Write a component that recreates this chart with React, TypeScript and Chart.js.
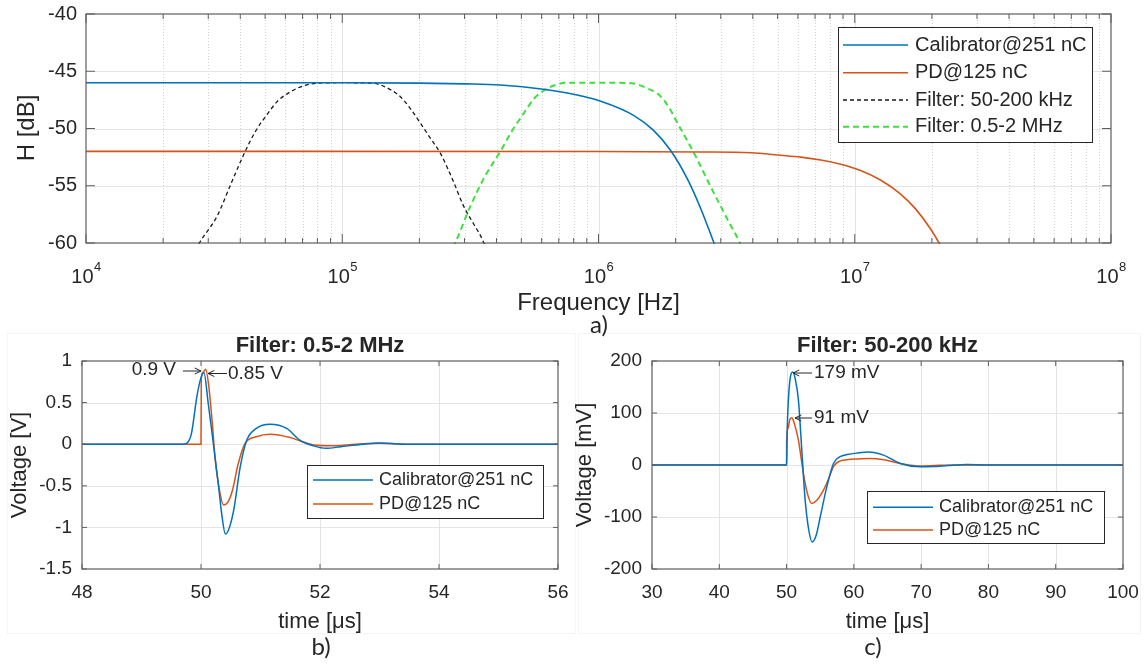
import React, { useEffect, useRef } from "react";
import { Chart, registerables } from "chart.js";
Chart.register(...registerables);

const W = 1145;
const H = 666;

// ---------- panel a) frequency response ----------
const calFreq = [1e4, 1e5, 2e5, 3e5, 4.14e5, 6.2e5, 7.55e5, 1.02e6, 1.37e6, 1.64e6, 1.91e6, 2.22e6, 2.5e6, 2.82e6, 3.17e6];
const calDb = [-46, -46, -46.04, -46.1, -46.2, -46.59, -46.9, -47.62, -48.85, -50.16, -51.9, -54.38, -56.94, -59.97, -63.1];
const pdFreq = [1e4, 1e6, 2.5e6, 3.93e6, 5.14e6, 6.15e6, 7.37e6, 8.81e6, 1.054e7, 1.26e7, 1.51e7, 1.73e7, 1.98e7, 2.17e7, 2.37e7];
const pdDb = [-52, -52.01, -52.05, -52.12, -52.34, -52.5, -52.75, -53.12, -53.67, -54.5, -55.73, -57.04, -58.8, -60.31, -62.16];
const f1Freq = [2.6e4, 2.77e4, 3.24e4, 3.7e4, 4.18e4, 4.6e4, 5.08e4, 5.6e4, 6.27e4, 7e4, 7.96e4, 1e5, 1.32e5, 1.54e5, 1.69e5, 1.85e5, 2.02e5, 2.2e5, 2.42e5, 2.7e5, 2.98e5, 3.25e5, 3.54e5, 3.7e5];
const f1Db = [-61.2, -60, -57.7, -54.7, -52, -50.2, -48.8, -47.6, -46.8, -46.3, -46.05, -46, -46.05, -46.6, -47.25, -48.3, -49.55, -50.8, -52.2, -54.5, -56.8, -58.3, -59.8, -61];
const f2Freq = [2.6e5, 2.76e5, 3.16e5, 3.6e5, 4.14e5, 4.6e5, 5.1e5, 5.6e5, 6.2e5, 6.8e5, 7.5e5, 1e6, 1.35e6, 1.55e6, 1.75e6, 1.9e6, 2.03e6, 2.2e6, 2.43e6, 2.7e6, 3.0e6, 3.25e6, 3.53e6, 3.7e6];
const f2Db = [-61.2, -60, -56.8, -54.2, -52, -50.2, -48.7, -47.4, -46.6, -46.2, -46.0, -46, -46.05, -46.5, -47.2, -48.3, -49.5, -50.9, -52.7, -54.8, -56.8, -58.3, -59.8, -61];
const aXTicks = [1e4, 1e5, 1e6, 1e7, 1e8];
const aXExp = ["4", "5", "6", "7", "8"];
const aYTicks = [-60, -55, -50, -45, -40];
const aYLabels = ["-60", "-55", "-50", "-45", "-40"];
const aLegend = ["Calibrator@251 nC", "PD@125 nC", "Filter: 50-200 kHz", "Filter: 0.5-2 MHz"];

// ---------- panel b) 0.5-2 MHz ----------
const bTimeCal = [48, 49.7, 49.76, 49.84, 49.93, 50.0, 50.05, 50.12, 50.2, 50.29, 50.35, 50.41, 50.54, 50.66, 50.77, 50.93, 51.16, 51.44, 51.66, 51.89, 52.1, 52.35, 52.73, 53.0, 53.4, 56];
const bVCal = [0, 0, 0.01, 0.13, 0.57, 0.8, 0.86, 0.5, 0.05, -0.47, -0.85, -1.08, -0.83, -0.27, 0.05, 0.19, 0.24, 0.19, 0.05, -0.02, -0.05, -0.03, 0.0, 0.015, 0.0, 0];
const bTimePd = [48, 50.0, 50.005, 50.03, 50.08, 50.13, 50.19, 50.24, 50.32, 50.38, 50.45, 50.53, 50.62, 50.74, 50.93, 51.16, 51.5, 51.7, 51.9, 52.2, 52.6, 53.0, 53.5, 56];
const bVPd = [0, 0, 0.78, 0.86, 0.9, 0.7, 0.25, -0.19, -0.59, -0.73, -0.7, -0.55, -0.25, 0.01, 0.09, 0.12, 0.08, 0.03, -0.01, -0.02, 0.0, 0.01, 0.0, 0];
const bXTicks = [48, 50, 52, 54, 56];
const bYTicks = [-1.5, -1, -0.5, 0, 0.5, 1];
const bYLabels = ["-1.5", "-1", "-0.5", "0", "0.5", "1"];

// ---------- panel c) 50-200 kHz ----------
const cTimeCal = [30, 50.0, 50.1, 50.27, 50.55, 50.93, 51.3, 51.76, 52.26, 52.76, 53.3, 53.8, 54.4, 55.0, 55.98, 56.97, 57.96, 59.0, 60.5, 62.2, 64.4, 66.9, 69.9, 71.8, 74, 76.8, 80, 100];
const cVCal = [0, 0, 70, 125, 168, 179, 165, 125, 29, -67, -125, -148, -135, -100, -42, 3, 16, 20, 23, 25, 19, 3, -3.5, -3, -1, 1, 0, 0];
const cTimePd = [30, 50.0, 50.01, 50.2, 50.5, 50.78, 51.1, 51.76, 52.5, 53.1, 53.75, 54.5, 55.5, 56.3, 56.97, 57.8, 59.0, 60.5, 62.4, 64.5, 66.9, 69.9, 72, 75, 100];
const cVPd = [0, 0, 45, 70, 88, 91, 82, 48, -16, -55, -74, -68, -48, -25, -3, 7, 10, 11.5, 12.5, 10, 3, -2, -1, 0, 0];
const cXTicks = [30, 40, 50, 60, 70, 80, 90, 100];
const cYTicks = [-200, -100, 0, 100, 200];
const cYLabels = ["-200", "-100", "0", "100", "200"];
const bcLegend = ["Calibrator@251 nC", "PD@125 nC"];

// ---------- styles ----------
const BLUE = "#0072BD";
const ORANGE = "#D95319";
const BLACK = "#1a1a1a";
const GREEN = "#3de03d";
const TXT = "#262626";
const FRAME = "#5e5e5e";
const GRID = "#e4e4e4";
const MINOR = "#d2d2d2";
const SANS = '"Liberation Sans", Arial, sans-serif';
const CAL = 'Lato, "Open Sans", sans-serif';

type Box = { l: number; t: number; r: number; b: number };
const aPlot: Box = { l: 86, t: 14, r: 1111, b: 243 };
const bPlot: Box = { l: 82, t: 361, r: 558, b: 569 };
const cPlot: Box = { l: 652, t: 361, r: 1123, b: 569 };

const pts = (xs: number[], ys: number[]) => xs.map((x, i) => ({ x, y: ys[i] }));

function seg(ctx: CanvasRenderingContext2D, x1: number, y1: number, x2: number, y2: number) {
  ctx.beginPath();
  ctx.moveTo(x1, y1);
  ctx.lineTo(x2, y2);
  ctx.stroke();
}

function txt(ctx: CanvasRenderingContext2D, s: string, x: number, y: number, font: string, align: CanvasTextAlign = "center", baseline: CanvasTextBaseline = "middle", rot = 0) {
  ctx.save();
  ctx.font = font;
  ctx.fillStyle = TXT;
  ctx.textAlign = align;
  ctx.textBaseline = baseline;
  ctx.translate(x, y);
  if (rot) ctx.rotate(rot);
  ctx.fillText(s, 0, 0);
  ctx.restore();
}

function arrow(ctx: CanvasRenderingContext2D, x1: number, y1: number, x2: number, y2: number) {
  ctx.save();
  ctx.strokeStyle = TXT;
  ctx.lineWidth = 1;
  seg(ctx, x1, y1, x2, y2);
  const a = Math.atan2(y2 - y1, x2 - x1);
  const L = 7;
  seg(ctx, x2, y2, x2 - L * Math.cos(a - 0.45), y2 - L * Math.sin(a - 0.45));
  seg(ctx, x2, y2, x2 - L * Math.cos(a + 0.45), y2 - L * Math.sin(a + 0.45));
  ctx.restore();
}

type LegRow = { label: string; color: string; dash: number[]; width: number };
function legend(ctx: CanvasRenderingContext2D, box: Box, rows: LegRow[], ys: number[], lx1: number, lx2: number, tx: number, font: string) {
  ctx.save();
  ctx.fillStyle = "#ffffff";
  ctx.fillRect(box.l, box.t, box.r - box.l, box.b - box.t);
  ctx.strokeStyle = TXT;
  ctx.lineWidth = 1;
  ctx.strokeRect(box.l + 0.5, box.t + 0.5, box.r - box.l, box.b - box.t);
  rows.forEach((r, i) => {
    ctx.strokeStyle = r.color;
    ctx.lineWidth = r.width;
    ctx.setLineDash(r.dash);
    seg(ctx, lx1, ys[i], lx2, ys[i]);
    ctx.setLineDash([]);
    txt(ctx, r.label, tx, ys[i], font, "left", "middle");
  });
  ctx.restore();
}

type Spec = {
  xMajor: number[];
  yMajor: number[];
  xMinor: number[];
  majorLen: number;
  minorLen: number;
  extra: (chart: Chart) => void;
};

function decor(spec: Spec) {
  return {
    id: "decor",
    beforeDatasetsDraw(chart: Chart) {
      const ctx = chart.ctx;
      const xs = chart.scales.x;
      const ys = chart.scales.y;
      const { left, right, top, bottom } = chart.chartArea;
      ctx.save();
      ctx.fillStyle = "#ffffff";
      ctx.fillRect(left, top, right - left, bottom - top);
      ctx.lineWidth = 1;
      ctx.strokeStyle = MINOR;
      ctx.setLineDash([1, 2]);
      for (const v of spec.xMinor) {
        const p = Math.round(xs.getPixelForValue(v)) + 0.5;
        seg(ctx, p, top, p, bottom);
      }
      ctx.setLineDash([]);
      ctx.strokeStyle = GRID;
      for (const v of spec.xMajor) {
        const p = Math.round(xs.getPixelForValue(v)) + 0.5;
        if (p > left + 1 && p < right - 1) seg(ctx, p, top, p, bottom);
      }
      for (const v of spec.yMajor) {
        const p = Math.round(ys.getPixelForValue(v)) + 0.5;
        if (p > top + 1 && p < bottom - 1) seg(ctx, left, p, right, p);
      }
      ctx.restore();
    },
    afterDatasetsDraw(chart: Chart) {
      const ctx = chart.ctx;
      const xs = chart.scales.x;
      const ys = chart.scales.y;
      const { left, right, top, bottom } = chart.chartArea;
      ctx.save();
      ctx.strokeStyle = FRAME;
      ctx.lineWidth = 1.2;
      ctx.strokeRect(left, top, right - left, bottom - top);
      ctx.lineWidth = 1;
      for (const v of spec.xMajor) {
        const p = xs.getPixelForValue(v);
        seg(ctx, p, bottom, p, bottom - spec.majorLen);
        seg(ctx, p, top, p, top + spec.majorLen);
      }
      for (const v of spec.xMinor) {
        const p = xs.getPixelForValue(v);
        seg(ctx, p, bottom, p, bottom - spec.minorLen);
        seg(ctx, p, top, p, top + spec.minorLen);
      }
      for (const v of spec.yMajor) {
        const p = ys.getPixelForValue(v);
        seg(ctx, left, p, left + spec.majorLen, p);
        seg(ctx, right, p, right - spec.majorLen, p);
      }
      ctx.restore();
      spec.extra(chart);
    },
  };
}

function baseOptions(box: Box, xType: "linear" | "logarithmic", xMin: number, xMax: number, yMin: number, yMax: number) {
  return {
    responsive: false,
    maintainAspectRatio: false,
    animation: false as const,
    devicePixelRatio: 1,
    events: [] as any[],
    layout: { padding: { left: box.l, top: box.t, right: W - box.r, bottom: H - box.b } },
    scales: {
      x: { type: xType, min: xMin, max: xMax, display: false },
      y: { type: "linear" as const, min: yMin, max: yMax, display: false },
    },
    plugins: { legend: { display: false }, tooltip: { enabled: false }, title: { display: false } },
    elements: { point: { radius: 0 } },
  };
}

function ds(label: string, xs: number[], ys: number[], color: string, width: number, dash: number[] = []) {
  return {
    label,
    data: pts(xs, ys),
    borderColor: color,
    backgroundColor: color,
    borderWidth: width,
    borderDash: dash,
    pointRadius: 0,
    fill: false,
    cubicInterpolationMode: "monotone" as const,
    clip: 1,
  };
}

const aMinor: number[] = [];
for (let e = 4; e < 8; e++) for (let k = 2; k <= 9; k++) aMinor.push(k * Math.pow(10, e));

function cfgA(): any {
  return {
    type: "line",
    data: {
      datasets: [
        ds(aLegend[0], calFreq, calDb, BLUE, 1.6),
        ds(aLegend[1], pdFreq, pdDb, ORANGE, 1.6),
        ds(aLegend[2], f1Freq, f1Db, BLACK, 1.3, [4, 3]),
        ds(aLegend[3], f2Freq, f2Db, GREEN, 2, [6, 4]),
      ],
    },
    options: baseOptions(aPlot, "logarithmic", 1e4, 1e8, -60, -40),
    plugins: [
      decor({
        xMajor: aXTicks,
        yMajor: aYTicks,
        xMinor: aMinor,
        majorLen: 9,
        minorLen: 5,
        extra: (chart) => {
          const ctx = chart.ctx;
          const xs = chart.scales.x;
          const ys = chart.scales.y;
          aYTicks.forEach((v, i) => txt(ctx, aYLabels[i], 77, ys.getPixelForValue(v), `20px ${SANS}`, "right", "middle"));
          aXTicks.forEach((v, i) => {
            const p = xs.getPixelForValue(v);
            ctx.save();
            ctx.font = `20px ${SANS}`;
            const w1 = ctx.measureText("10").width;
            ctx.font = `13px ${SANS}`;
            const w2 = ctx.measureText(aXExp[i]).width;
            ctx.restore();
            const x0 = p - (w1 + w2) / 2;
            txt(ctx, "10", x0, 283, `20px ${SANS}`, "left", "alphabetic");
            txt(ctx, aXExp[i], x0 + w1 + 0.5, 271, `13px ${SANS}`, "left", "alphabetic");
          });
          txt(ctx, "Frequency [Hz]", (aPlot.l + aPlot.r) / 2, 310, `24px ${SANS}`, "center", "alphabetic");
          txt(ctx, "H [dB]", 27, 128, `24px ${SANS}`, "center", "middle", -Math.PI / 2);
          txt(ctx, "a)", 599, 333, `24px ${CAL}`, "center", "alphabetic");
          legend(
            ctx,
            { l: 838, t: 27, r: 1092, b: 142 },
            [
              { label: aLegend[0], color: BLUE, dash: [], width: 1.6 },
              { label: aLegend[1], color: ORANGE, dash: [], width: 1.6 },
              { label: aLegend[2], color: BLACK, dash: [4, 3], width: 1.3 },
              { label: aLegend[3], color: GREEN, dash: [6, 4], width: 2 },
            ],
            [45, 72.7, 100, 126.7],
            843,
            908,
            915,
            `20px ${SANS}`
          );
        },
      }),
    ],
  };
}

function panelExtra(
  box: Box,
  frame: Box,
  xTicks: number[],
  yTicks: number[],
  yLabels: string[],
  title: string,
  yTitle: string,
  yTitleX: number,
  tag: string,
  tagX: number,
  legBox: Box,
  legYs: number[],
  legX: number,
  annots: (ctx: CanvasRenderingContext2D) => void
) {
  return (chart: Chart) => {
    const ctx = chart.ctx;
    const xs = chart.scales.x;
    const ys = chart.scales.y;
    ctx.save();
    ctx.strokeStyle = "#f4f4f4";
    ctx.lineWidth = 1;
    ctx.strokeRect(frame.l + 0.5, frame.t + 0.5, frame.r - frame.l, frame.b - frame.t);
    ctx.restore();
    yTicks.forEach((v, i) => txt(ctx, yLabels[i], box.l - 10, ys.getPixelForValue(v), `19px ${SANS}`, "right", "middle"));
    xTicks.forEach((v) => txt(ctx, String(v), xs.getPixelForValue(v), 598, `19px ${SANS}`, "center", "alphabetic"));
    const cx = (box.l + box.r) / 2;
    txt(ctx, title, cx, 346, `bold 22px ${SANS}`, "center", "middle");
    txt(ctx, "time [\u03bcs]", cx, 628, `22px ${SANS}`, "center", "alphabetic");
    txt(ctx, yTitle, yTitleX, 465, `22px ${SANS}`, "center", "middle", -Math.PI / 2);
    txt(ctx, tag, tagX, 655, `24px ${CAL}`, "center", "alphabetic");
    legend(
      ctx,
      legBox,
      [
        { label: bcLegend[0], color: BLUE, dash: [], width: 1.5 },
        { label: bcLegend[1], color: ORANGE, dash: [], width: 1.5 },
      ],
      legYs,
      legX,
      legX + 60,
      legX + 66,
      `18px ${SANS}`
    );
    annots(ctx);
  };
}

function cfgB(): any {
  return {
    type: "line",
    data: {
      datasets: [ds(bcLegend[0], bTimeCal, bVCal, BLUE, 1.5), ds(bcLegend[1], bTimePd, bVPd, ORANGE, 1.5)],
    },
    options: baseOptions(bPlot, "linear", 48, 56, -1.5, 1),
    plugins: [
      decor({
        xMajor: bXTicks,
        yMajor: bYTicks,
        xMinor: [],
        majorLen: 5,
        minorLen: 0,
        extra: panelExtra(
          bPlot,
          { l: 7, t: 333, r: 575, b: 633 },
          bXTicks,
          bYTicks,
          bYLabels,
          "Filter: 0.5-2 MHz",
          "Voltage [V]",
          20,
          "b)",
          321,
          { l: 307, t: 465, r: 543, b: 518 },
          [480, 504],
          313,
          (ctx) => {
            txt(ctx, "0.9 V", 176, 370, `19px ${SANS}`, "right", "middle");
            arrow(ctx, 183, 371, 201, 371);
            txt(ctx, "0.85 V", 228, 374, `19px ${SANS}`, "left", "middle");
            arrow(ctx, 227, 373.5, 208, 373.5);
          }
        ),
      }),
    ],
  };
}

function cfgC(): any {
  return {
    type: "line",
    data: {
      datasets: [ds(bcLegend[0], cTimeCal, cVCal, BLUE, 1.5), ds(bcLegend[1], cTimePd, cVPd, ORANGE, 1.5)],
    },
    options: baseOptions(cPlot, "linear", 30, 100, -200, 200),
    plugins: [
      decor({
        xMajor: cXTicks,
        yMajor: cYTicks,
        xMinor: [],
        majorLen: 5,
        minorLen: 0,
        extra: panelExtra(
          cPlot,
          { l: 578, t: 333, r: 1140, b: 633 },
          cXTicks,
          cYTicks,
          cYLabels,
          "Filter: 50-200 kHz",
          "Voltage [mV]",
          585,
          "c)",
          873,
          { l: 867, t: 491, r: 1104, b: 543 },
          [507.3, 530],
          873,
          (ctx) => {
            txt(ctx, "179 mV", 814, 373, `19px ${SANS}`, "left", "middle");
            arrow(ctx, 812, 373, 793, 373);
            txt(ctx, "91 mV", 814, 418, `19px ${SANS}`, "left", "middle");
            arrow(ctx, 812, 418, 795, 418);
          }
        ),
      }),
    ],
  };
}

export default function App() {
  const r1 = useRef<HTMLCanvasElement>(null);
  const r2 = useRef<HTMLCanvasElement>(null);
  const r3 = useRef<HTMLCanvasElement>(null);
  useEffect(() => {
    const charts = [new Chart(r2.current!, cfgB()), new Chart(r3.current!, cfgC()), new Chart(r1.current!, cfgA())];
    return () => charts.forEach((c) => c.destroy());
  }, []);
  const cs: React.CSSProperties = { position: "absolute", left: 0, top: 0, width: W, height: H };
  return (
    <div style={{ position: "absolute", left: 0, top: 0, width: W, height: H, background: "#ffffff", overflow: "hidden" }}>
      <canvas ref={r2} width={W} height={H} style={cs} />
      <canvas ref={r3} width={W} height={H} style={cs} />
      <canvas ref={r1} width={W} height={H} style={cs} />
    </div>
  );
}
